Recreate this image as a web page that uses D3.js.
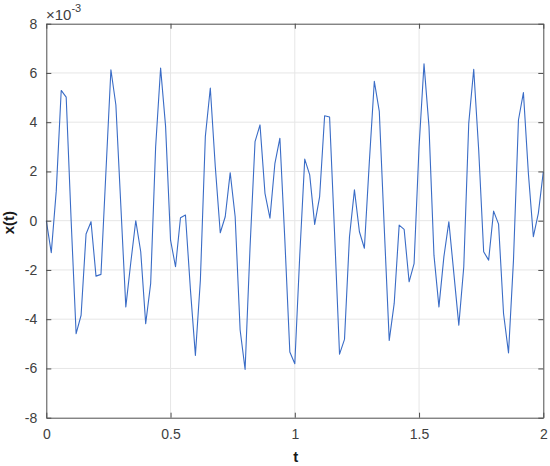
<!DOCTYPE html>
<html><head><meta charset="utf-8">
<script src="https://cdn.jsdelivr.net/npm/d3@7"></script>
<style>body{margin:0;background:#fff;} text{font-family:Arial,"Liberation Sans",Helvetica,sans-serif;}</style>
</head><body>
<svg id="c" width="550" height="466"></svg>
<script>
const tValues = d3.range(0, 101).map(i => i * 0.02);
const xValues = [
 0.0, -1.3, 1.2, 5.29, 5.02, 0.0, -4.59, -3.84, -0.54, -0.04,
 -2.25, -2.18, 2.0, 6.13, 4.7, 0.6, -3.5, -1.7, 0.0, -1.26,
 -4.18, -2.55, 3.0, 6.2, 3.83, -0.79, -1.87, 0.12, 0.23, -2.8,
 -5.47, -2.42, 3.42, 5.39, 2.2, -0.49, 0.16, 1.95, 0.16, -4.44,
 -6.04, -1.06, 3.21, 3.89, 1.11, 0.1, 2.33, 3.35, -0.8, -5.33,
 -5.81, -1.4, 2.5, 1.86, -0.15, 0.98, 4.26, 4.21, -0.5, -5.42,
 -4.82, -0.65, 1.25, -0.45, -1.12, 2.4, 5.66, 4.44, -0.3, -4.86,
 -3.36, -0.18, -0.35, -2.48, -1.74, 3.0, 6.37, 3.82, -1.4, -3.5,
 -1.46, -0.04, -2.14, -4.24, -1.87, 3.96, 6.15, 2.87, -1.26, -1.6,
 0.39, -0.14, -3.77, -5.37, -1.6, 4.09, 5.2, 1.92, -0.65, 0.3,
 1.99
];
const xTicks = [0, 0.5, 1, 1.5, 2];
const xTickLabels = ["0", "0.5", "1", "1.5", "2"];
const yTicks = [-8, -6, -4, -2, 0, 2, 4, 6, 8];
const yTickLabels = ["-8", "-6", "-4", "-2", "0", "2", "4", "6", "8"];

const svg = d3.select("#c");
const L = 46.3, R = 543.3, T = 23.7, B = 417.7;
const xs = d3.scaleLinear().domain([0, 2]).range([L, R]);
const ys = d3.scaleLinear().domain([-8, 8]).range([B, T]);
const axisCol = "#4d4d4d", textCol = "#404040";

// grid
const grid = svg.append("g");
grid.selectAll(".gx").data(xTicks.slice(1, -1)).join("line")
  .attr("x1", d => xs(d)).attr("x2", d => xs(d)).attr("y1", T).attr("y2", B)
  .attr("stroke", "#e6e6e6").attr("stroke-width", 1);
grid.selectAll(".gy").data(yTicks.slice(1, -1)).join("line")
  .attr("y1", d => ys(d)).attr("y2", d => ys(d)).attr("x1", L).attr("x2", R)
  .attr("stroke", "#e6e6e6").attr("stroke-width", 1);

// line
const lineGen = d3.line().x((d, i) => xs(tValues[i])).y(d => ys(d));
svg.append("path").datum(xValues).attr("d", lineGen)
  .attr("fill", "none").attr("stroke", "#3a6cc6").attr("stroke-width", 1.1)
  .attr("stroke-linejoin", "round");

// axes
const fmtX = (d) => xTickLabels[xTicks.indexOf(d)];
const fmtY = (d) => yTickLabels[yTicks.indexOf(d)];
const axB = svg.append("g").attr("transform", `translate(0,${B})`)
  .call(d3.axisBottom(xs).tickValues(xTicks).tickFormat(fmtX).tickSizeInner(-5).tickSizeOuter(0).tickPadding(11));
const axL = svg.append("g").attr("transform", `translate(${L},0)`)
  .call(d3.axisLeft(ys).tickValues(yTicks).tickFormat(fmtY).tickSizeInner(-5).tickSizeOuter(0).tickPadding(9));
const axT = svg.append("g").attr("transform", `translate(0,${T})`)
  .call(d3.axisTop(xs).tickValues(xTicks).tickFormat("").tickSizeInner(-5).tickSizeOuter(0));
const axR = svg.append("g").attr("transform", `translate(${R},0)`)
  .call(d3.axisRight(ys).tickValues(yTicks).tickFormat("").tickSizeInner(-5).tickSizeOuter(0));
[axB, axL, axT, axR].forEach(a => {
  a.select(".domain").attr("stroke", axisCol);
  a.selectAll(".tick line").attr("stroke", axisCol);
  a.selectAll(".tick text").attr("fill", textCol).style("font-size", "14px")
    .style("font-family", "Arial, 'Liberation Sans', sans-serif");
});

// exponent
const ex = svg.append("text").attr("x", 46).attr("y", 20).attr("fill", textCol)
  .style("font-size", "15px");
ex.append("tspan").text("\u00d710");
ex.append("tspan").attr("dy", -8).style("font-size", "11px").text("-3");

// labels
svg.append("text").attr("x", (L + R) / 2 + 1).attr("y", 462).attr("text-anchor", "middle")
  .attr("fill", "#1a1a1a").style("font-size", "15px").style("font-weight", "bold").text("t");
svg.append("text").attr("transform", `translate(14,${(T + B) / 2 + 2}) rotate(-90)`)
  .attr("text-anchor", "middle").attr("fill", "#1a1a1a").style("font-size", "15px")
  .style("font-weight", "bold").text("x(t)");
</script>
</body></html>
